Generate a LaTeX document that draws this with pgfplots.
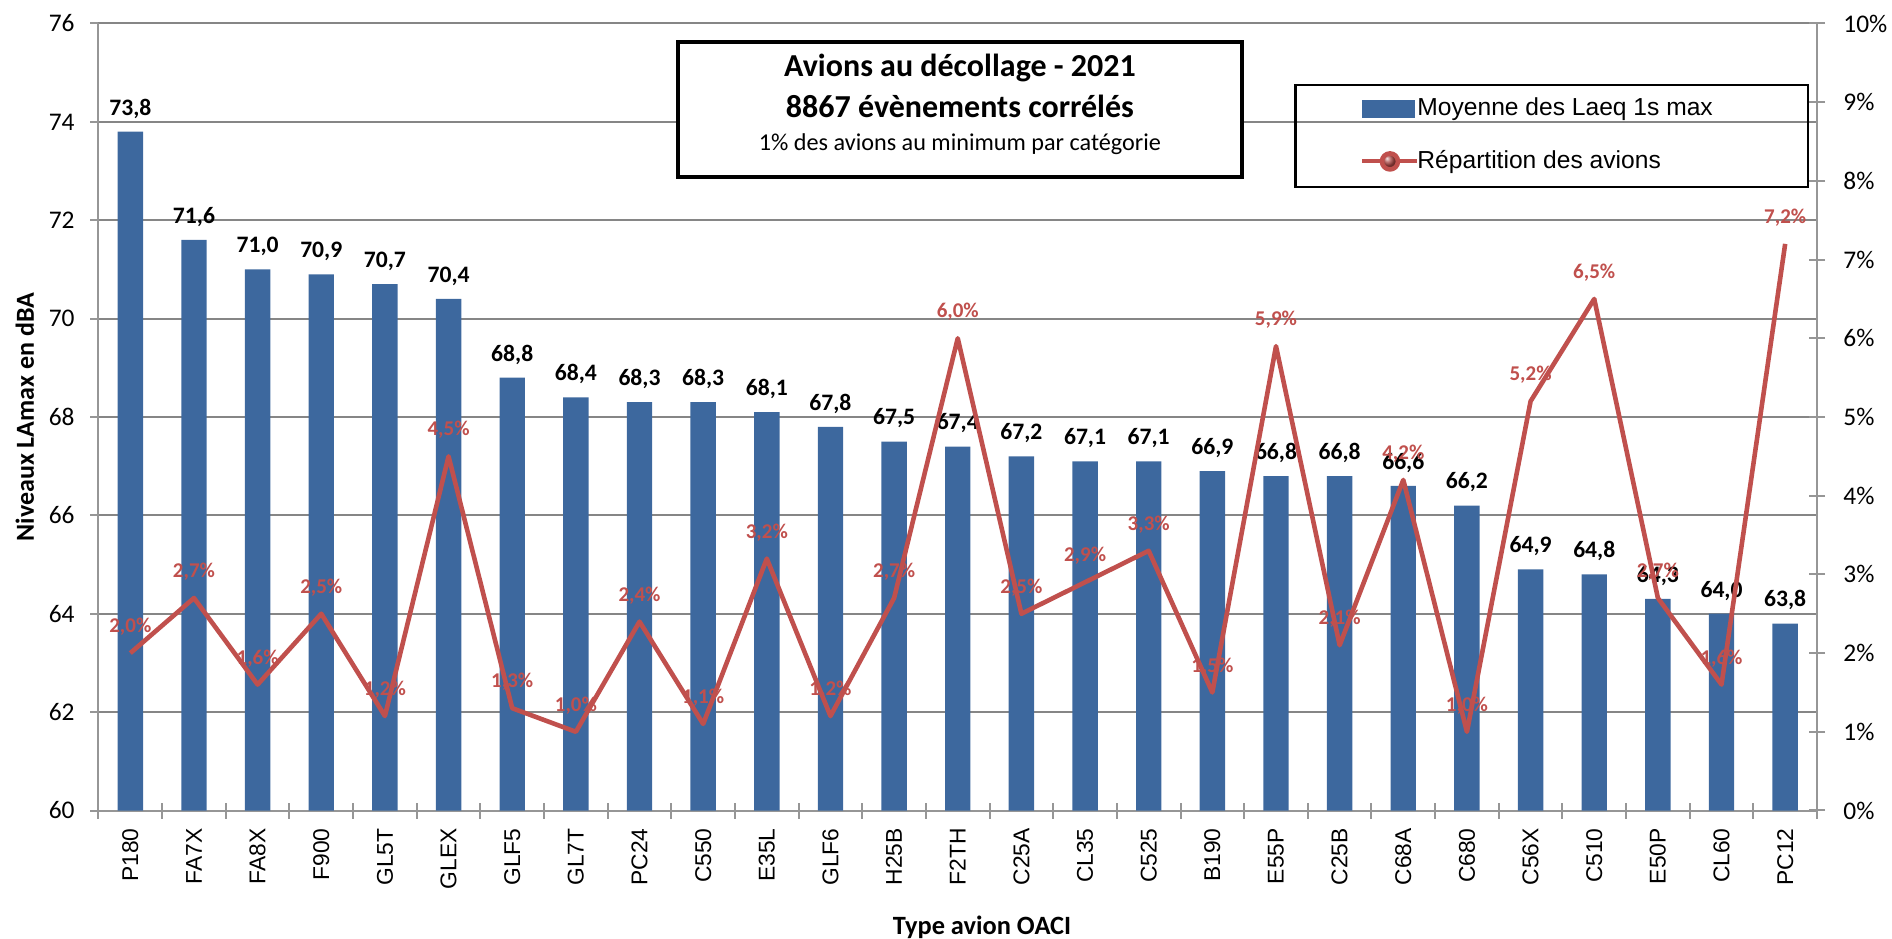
\documentclass[border=0pt]{standalone}
\usepackage{pgfplots}
\pgfplotsset{compat=1.18}
\usepackage{pgfplotstable}
\usepackage{fontspec}
\setmainfont{Carlito}
\newfontfamily\arialf{Liberation Sans}
\definecolor{barblue}{RGB}{61,104,158}
\definecolor{linered}{RGB}{192,80,77}
\definecolor{gridgray}{RGB}{134,134,134}
\definecolor{axgray}{RGB}{150,150,150}

\pgfplotstableread{
x cat lae pct
0 P180 73.8 2.0
1 FA7X 71.6 2.7
2 FA8X 71.0 1.6
3 F900 70.9 2.5
4 GL5T 70.7 1.2
5 GLEX 70.4 4.5
6 GLF5 68.8 1.3
7 GL7T 68.4 1.0
8 PC24 68.3 2.4
9 C550 68.3 1.1
10 E35L 68.1 3.2
11 GLF6 67.8 1.2
12 H25B 67.5 2.7
13 F2TH 67.4 6.0
14 C25A 67.2 2.5
15 CL35 67.1 2.9
16 C525 67.1 3.3
17 B190 66.9 1.5
18 E55P 66.8 5.9
19 C25B 66.8 2.1
20 C68A 66.6 4.2
21 C680 66.2 1.0
22 C56X 64.9 5.2
23 C510 64.8 6.5
24 E50P 64.3 2.7
25 CL60 64.0 1.6
26 PC12 63.8 7.2
}\data

\begin{document}
\begin{tikzpicture}
\useasboundingbox (0,0) rectangle (946pt,469pt);
\begin{axis}[
  at={(49.25pt,63.75pt)}, anchor=south west,
  scale only axis, width=859.25pt, height=393.5pt,
  xmin=-0.5, xmax=26.5, ymin=60, ymax=76,
  enlargelimits=false,
  ybar, bar width=12.7pt,
  ytick={60,62,...,76},
  axis x line*=bottom, axis y line*=left,
  axis line style={axgray, line width=1pt},
  ymajorgrids, grid style={gridgray, line width=1pt},
  xtick={0,...,26},
  xticklabels from table={\data}{cat},
  major x tick style={draw=none},
  minor xtick={-0.5,0.5,...,26.5},
  minor tick length=8pt,
  minor x tick style={axgray, line width=1pt, yshift=4pt},
  major tick length=4pt,
  tick align=outside,
  major y tick style={axgray, line width=1pt},
  /pgf/number format/assume math mode=true,
  yticklabel style={font=\fontsize{12.7}{14}\selectfont, inner sep=0pt, anchor=east},
  yticklabel shift=7.75pt,
  xticklabel style={font=\arialf\fontsize{11.4}{13}\selectfont, rotate=90, anchor=east, inner sep=0pt},
  xticklabel shift=4.75pt,
  ylabel={Niveaux LAmax en dBA},
  ylabel style={font=\bfseries\fontsize{13}{15}\selectfont, at={(axis description cs:-0.0428,0.5)}, anchor=center},
  xlabel={Type avion OACI},
  xlabel style={font=\bfseries\fontsize{13.2}{15}\selectfont, at={(axis description cs:0.5141,-0.148)}, anchor=center},
  nodes near coords={\pgfmathprintnumber[fixed, fixed zerofill, precision=1, use comma]{\pgfplotspointmeta}},
  every node near coord/.append style={font=\bfseries\fontsize{11.8}{13}\selectfont, black, anchor=base, inner sep=0pt, yshift=8.3pt},
]
\addplot[fill=barblue, draw=none] table[x=x, y=lae] {\data};
\end{axis}

\begin{axis}[
  at={(49.25pt,63.75pt)}, anchor=south west,
  scale only axis, width=859.25pt, height=393.5pt,
  xmin=-0.5, xmax=26.5, ymin=0, ymax=10,
  enlargelimits=false,
  axis x line=none, axis y line*=right,
  axis line style={axgray, line width=1pt},
  ytick={0,1,...,10},
  tick align=center, major tick length=8pt,
  major y tick style={axgray, line width=1pt},
  /pgf/number format/assume math mode=true,
  yticklabel={\pgfmathprintnumber{\tick}\%},
  yticklabel style={font=\fontsize{12.7}{14}\selectfont, inner sep=0pt, anchor=west},
  yticklabel shift=9pt,
  legend style={at={(axis description cs:0.7341,0.8583)}, anchor=west, draw=none, fill=none,
    inner sep=0pt, row sep=12pt, column sep=-3pt,
    font=\arialf\fontsize{12.3}{14}\selectfont},
  legend cell align=left,
]
\addlegendimage{legend image code/.code={\fill[barblue] (0pt,-4.25pt) rectangle (26pt,4.25pt);}}
\addlegendentry{Moyenne des Laeq 1s max}
\addplot[linered, line width=2.3pt, line join=round, mark=none,
  nodes near coords={\pgfmathprintnumber[fixed, fixed zerofill, precision=1, use comma]{\pgfplotspointmeta}\%},
  every node near coord/.append style={font=\bfseries\fontsize{10.5}{12}\selectfont, linered, anchor=base, inner sep=0pt, yshift=10.2pt},
  legend image code/.code={\draw[linered, line width=2pt] (0pt,0pt) -- (27.5pt,0pt); \shade[ball color=linered!90!black] (13.75pt,0pt) circle (4pt);}
] table[x=x, y=pct] {\data};
\addlegendentry{Répartition des avions}
\draw[black, line width=1.4pt] (axis description cs:0.6963,0.9219) rectangle (axis description cs:0.9948,0.7923);
\node[draw=black, line width=2pt, fill=white, minimum width=282pt, minimum height=67.5pt, inner sep=0pt]
  at (axis description cs:0.5013,0.8901) {};
\node[align=center, inner sep=0pt, yshift=3pt,
  font=\bfseries\fontsize{16}{19}\selectfont] at (axis description cs:0.5013,0.8901)
  {Avions au décollage - 2021\\[1.5pt] 8867 évènements corrélés\\[-2.5pt] {\mdseries\fontsize{12.1}{14}\selectfont 1\% des avions au minimum par catégorie}};
\end{axis}
\end{tikzpicture}
\end{document}
